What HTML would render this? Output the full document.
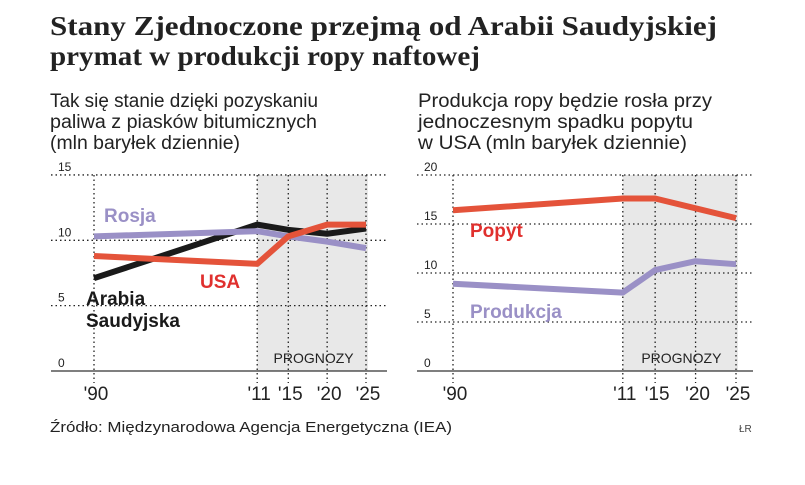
<!DOCTYPE html>
<html><head><meta charset="utf-8"><style>
body{margin:0;background:#fff}
svg{display:block;font-family:"Liberation Sans",sans-serif}
</style></head><body>
<svg id="c" width="805" height="485" viewBox="0 0 805 485">
<text x="50" y="35" font-family="Liberation Serif,serif" font-weight="bold" font-size="27" fill="#222" textLength="667" lengthAdjust="spacingAndGlyphs">Stany Zjednoczone przejmą od Arabii Saudyjskiej</text>
<text x="50" y="65" font-family="Liberation Serif,serif" font-weight="bold" font-size="27" fill="#222" textLength="430" lengthAdjust="spacingAndGlyphs">prymat w produkcji ropy naftowej</text>
<g font-size="19" fill="#222">
<text x="50" y="107" textLength="268" lengthAdjust="spacingAndGlyphs">Tak się stanie dzięki pozyskaniu</text>
<text x="50" y="128" textLength="267" lengthAdjust="spacingAndGlyphs">paliwa z piasków bitumicznych</text>
<text x="50" y="149" textLength="190" lengthAdjust="spacingAndGlyphs">(mln baryłek dziennie)</text>
<text x="418" y="107" textLength="294" lengthAdjust="spacingAndGlyphs">Produkcja ropy będzie rosła przy</text>
<text x="418" y="128" textLength="275" lengthAdjust="spacingAndGlyphs">jednoczesnym spadku popytu</text>
<text x="418" y="149" textLength="269" lengthAdjust="spacingAndGlyphs">w USA (mln baryłek dziennie)</text>
</g>
<text x="50" y="432" font-size="15" fill="#222" textLength="402" lengthAdjust="spacingAndGlyphs">Źródło: Międzynarodowa Agencja Energetyczna (IEA)</text>
<text x="739" y="432" font-size="10" fill="#444">ŁR</text>
<g id="left"></g>
<g id="right"></g>
</svg>
<script>
const years = [1990, 2011, 2015, 2020, 2025];
const yearLabels = ["'90", "'11", "'15", "'20", "'25"];
const leftTicks = [0, 5, 10, 15];
const saudiValues = [7.1, 11.2, 10.8, 10.5, 10.9];
const russiaValues = [10.3, 10.7, 10.3, 9.9, 9.4];
const usaValues = [8.8, 8.2, 10.3, 11.2, 11.2];
const rightTicks = [0, 5, 10, 15, 20];
const demandValues = [16.4, 17.6, 17.6, 16.6, 15.6];
const productionValues = [8.9, 8.0, 10.3, 11.2, 10.9];

const NS = "http://www.w3.org/2000/svg";
function mk(parent, tag, attrs, text){
  const e = document.createElementNS(NS, tag);
  for (const k in attrs) e.setAttribute(k, attrs[k]);
  if (text !== undefined) e.textContent = text;
  parent.appendChild(e);
  return e;
}
function chart(g, cfg){
  const xs = y => cfg.x0 + (y - 1990) / 35 * (cfg.x1 - cfg.x0);
  const ys = v => cfg.yb - v * cfg.ppu;
  const sh = mk(g, 'rect', {x: xs(2011), y: cfg.yb - cfg.maxT * cfg.ppu, width: xs(2025) - xs(2011) + 2, height: cfg.maxT * cfg.ppu, fill: '#e8e8e8'});
  
  
  const pt = mk(g, 'text', {x: (xs(2011) + xs(2025)) / 2 + 2, y: cfg.yb - 8, 'font-size': 14, fill: '#222', 'text-anchor': 'middle'}, 'PROGNOZY');
  
  
  cfg.ticks.forEach(t => {
    if (t > 0) {
      const l = mk(g, 'line', {x1: cfg.ax0, x2: cfg.ax1, y1: ys(t), y2: ys(t), stroke: '#222', 'stroke-width': 1.3, 'stroke-dasharray': '1.5 3'});
      
      
    }
    const tl = mk(g, 'text', {x: cfg.ax0 + 7, y: ys(t) - 4, 'font-size': 12, fill: '#222'}, String(t));
    
    
  });
  years.forEach((y, i) => {
    const l = mk(g, 'line', {x1: xs(y), x2: xs(y), y1: cfg.yb - cfg.maxT * cfg.ppu, y2: cfg.yb + 12, stroke: '#222', 'stroke-width': 1.3, 'stroke-dasharray': '1.5 3'});
    
    
    const t = mk(g, 'text', {x: xs(y) + 2, y: cfg.yb + 29, 'font-size': 19, fill: '#222', 'text-anchor': 'middle'}, yearLabels[i]);
    
    
  });
  const ax = mk(g, 'line', {x1: cfg.ax0, x2: cfg.ax1, y1: cfg.yb, y2: cfg.yb, stroke: '#333', 'stroke-width': 1.3});
  
  
  cfg.series.forEach(s => {
    const p = mk(g, 'polyline', {points: s.values.map((v, i) => xs(years[i]) + ',' + ys(v)).join(' '), fill: 'none', stroke: s.color, 'stroke-width': 6, 'stroke-linejoin': 'round'});
    
    
  });
  cfg.labels.forEach(lb => {
    const t = mk(g, 'text', {x: lb.x, y: lb.y, 'font-size': 19, 'font-weight': 'bold', fill: lb.color}, lb.text);
    
    
  });
}
chart(document.getElementById('left'), {
  x0: 94, x1: 366, ax0: 51, ax1: 387, yb: 371, ppu: 13.07, maxT: 15, ticks: leftTicks,
  series: [
    {name: 'line-saudi-arabia', values: saudiValues, color: '#1a1a1a'},
    {name: 'line-russia', values: russiaValues, color: '#9a90c6'},
    {name: 'line-usa', values: usaValues, color: '#e4533a'}
  ],
  labels: [
    {name: 'label-russia', text: 'Rosja', x: 104, y: 222, color: '#9a90c6'},
    {name: 'label-usa', text: 'USA', x: 200, y: 288, color: '#e0302e'},
    {name: 'label-saudi-1', text: 'Arabia', x: 86, y: 305, color: '#1a1a1a'},
    {name: 'label-saudi-2', text: 'Saudyjska', x: 86, y: 327, color: '#1a1a1a'}
  ]
});
chart(document.getElementById('right'), {
  x0: 453, x1: 736, ax0: 417, ax1: 753, yb: 371, ppu: 9.8, maxT: 20, ticks: rightTicks,
  series: [
    {name: 'line-demand', values: demandValues, color: '#e4533a'},
    {name: 'line-production', values: productionValues, color: '#9a90c6'}
  ],
  labels: [
    {name: 'label-demand', text: 'Popyt', x: 470, y: 237, color: '#e0302e'},
    {name: 'label-production', text: 'Produkcja', x: 470, y: 318, color: '#9a90c6'}
  ]
});
</script>
</body></html>
